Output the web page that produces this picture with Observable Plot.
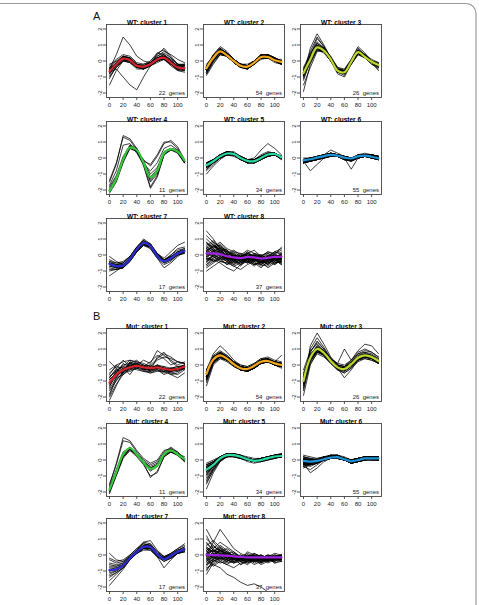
<!DOCTYPE html>
<html>
<head>
<meta charset="utf-8">
<script src="https://cdn.jsdelivr.net/npm/d3@7"></script>
<script src="https://cdn.jsdelivr.net/npm/@observablehq/plot@0.6"></script>
<style>
  body { margin: 0; background: #fff; }
  #fig { position: relative; width: 479px; height: 605px; overflow: hidden; font-family: "Liberation Sans", Arial, sans-serif; }
  #fig .panel { position: absolute; }
  #fig .tag { position: absolute; font-size: 11px; line-height: 11px; color: #111; }
  #fig svg text { white-space: pre; }
</style>
</head>
<body>
<div id="fig"></div>
<script>
// Sampling times (minutes)
const times = [0, 10, 20, 30, 40, 50, 60, 70, 80, 90, 100, 110];
const xTicks = [0, 20, 40, 60, 80, 100];
const yTicks = [-2, -1, 0, 1, 2];

const clusterColors = ["#d3232c", "#f2a81d", "#b9da2a", "#35c93a", "#2ad9a2", "#1f93d3", "#2c2cd0", "#a023e0"];

// Cluster centroids (log-ratio units)
const wtCentroids = [
  [-0.65, -0.2, 0.15, 0.05, -0.3, -0.35, -0.2, 0.1, 0.2, -0.1, -0.4, -0.45],
  [-0.45, 0.2, 0.6, 0.35, 0.0, -0.3, -0.35, -0.1, 0.25, 0.25, 0.05, -0.05],
  [-0.75, 0.1, 0.85, 0.65, 0.1, -0.6, -0.7, -0.05, 0.55, 0.25, -0.05, -0.25],
  [-2.05, -1.3, -0.1, 0.65, 0.5, -0.3, -1.2, -0.8, 0.3, 0.55, 0.4, -0.15],
  [-0.45, -0.2, 0.1, 0.28, 0.25, 0.0, -0.18, -0.2, 0.0, 0.22, 0.25, 0.05],
  [-0.15, -0.08, 0.02, 0.12, 0.2, 0.15, 0.02, -0.03, 0.1, 0.15, 0.08, -0.02],
  [-0.55, -0.7, -0.65, -0.25, 0.35, 0.75, 0.55, -0.05, -0.4, -0.2, 0.1, 0.25],
  [0.1, 0.1, 0.05, -0.08, -0.15, -0.2, -0.12, -0.15, -0.22, -0.18, -0.12, -0.1]
];
const mutCentroids = [
  [-1.1, -0.6, -0.3, -0.15, -0.05, -0.15, -0.2, -0.15, -0.25, -0.3, -0.25, -0.1],
  [-0.55, 0.35, 0.6, 0.4, 0.05, -0.2, -0.25, -0.05, 0.2, 0.25, 0.1, 0.0],
  [-1.0, 0.45, 1.0, 0.75, 0.25, -0.15, -0.25, 0.05, 0.45, 0.6, 0.5, 0.25],
  [-1.85, -0.75, 0.35, 0.75, 0.35, -0.15, -0.55, -0.35, 0.35, 0.6, 0.35, 0.05],
  [-0.6, -0.3, 0.1, 0.3, 0.3, 0.2, 0.05, -0.05, 0.0, 0.12, 0.22, 0.25],
  [-0.05, -0.1, -0.05, 0.05, 0.15, 0.18, 0.05, -0.08, 0.0, 0.1, 0.1, 0.1],
  [-0.95, -0.9, -0.65, -0.2, 0.2, 0.5, 0.5, 0.05, -0.25, -0.05, 0.2, 0.35],
  [0.02, 0.0, -0.02, -0.05, -0.08, -0.12, -0.15, -0.15, -0.15, -0.15, -0.15, -0.15]
];

// Gene profiles, one row per gene, values in tenths of a log-ratio unit
const wt1 = [
[-5,4,15,10,3,0,-1,3,5,2,-2,-3],
[-7,-5,-10,-15,-18,-10,-3,5,4,-2,-5,-4],
[-6,-1,3,2,-2,-3,-1,2,3,0,-3,-4],
[-8,-3,1,0,-4,-5,-3,0,1,-2,-5,-5],
[-4,0,3,2,-2,-3,-2,2,3,0,-3,-3],
[-10,-4,0,-1,-5,-5,-3,0,2,-2,-6,-6],
[-5,-1,2,1,-3,-2,0,4,8,3,-2,-3],
[-6,-2,1,0,-3,-4,-2,1,2,-1,-4,-5],
[-3,1,4,3,-1,-2,-1,2,4,1,-2,-2],
[-15,-6,0,-1,-4,-5,-3,1,1,-3,-6,-7],
[-7,-3,2,2,-2,-4,-3,0,2,-1,-5,-3],
[-5,-2,3,0,-4,-3,-1,3,6,4,1,-1],
[-6,-3,1,1,-3,-5,-2,1,1,-2,-4,-6],
[-8,-1,2,0,-2,-3,-2,2,3,-1,-5,-4],
[-2,0,1,-1,-4,-4,-2,1,2,-1,-3,-2],
[-6,-2,3,2,-3,-3,-2,0,3,1,-4,-5],
[-9,-4,0,1,-2,-4,-3,-1,1,-2,-3,-3],
[-6,-1,3,1,-3,-4,0,5,7,2,-2,-4],
[-4,-2,2,2,-3,-3,-2,1,2,-2,-5,-5],
[-7,-3,1,0,-3,-3,-1,2,1,-1,-4,-4],
[-5,-1,2,1,-4,-5,-3,0,2,0,-3,-2],
[-11,-3,0,0,-3,-3,-2,2,4,0,-5,-6]
];
const wt2 = [
[-5,2,6,4,0,-3,-4,-1,3,3,1,-1],
[-4,3,7,4,1,-2,-3,0,3,3,1,0],
[-6,1,5,3,-1,-4,-4,-2,2,2,0,-1],
[-3,3,7,5,1,-2,-3,-1,3,4,2,0],
[-7,0,5,3,0,-3,-4,-1,2,2,0,-2],
[-5,2,8,5,1,-3,-5,-2,3,4,1,-1],
[-4,1,5,3,-1,-3,-3,0,2,2,0,0],
[-5,3,6,3,-1,-4,-4,-1,3,3,0,-1],
[-6,2,7,4,0,-4,-5,-2,2,3,1,-2],
[-2,3,6,4,1,-2,-2,0,3,2,1,1],
[-5,1,6,5,1,-2,-4,-2,2,4,2,-1],
[-8,-1,4,3,-1,-4,-4,-1,2,2,0,-1],
[-4,2,7,4,0,-3,-3,-1,4,3,0,-1],
[-5,4,8,4,-1,-4,-4,-1,3,3,1,0],
[-3,2,5,3,0,-2,-3,0,2,2,1,0],
[-6,1,6,4,1,-3,-4,-2,3,3,0,-2],
[-4,2,6,3,-1,-3,-4,0,3,2,0,-1],
[-5,3,7,5,0,-3,-3,-1,2,3,1,-1],
[-7,1,5,4,0,-4,-4,-1,3,3,0,-2],
[-4,2,6,4,0,-2,-3,-1,3,3,2,0],
[-5,0,4,3,0,-3,-4,-2,2,2,0,-1],
[-3,4,9,6,1,-3,-4,-1,4,4,1,-1],
[-6,2,6,3,-1,-3,-3,0,3,3,1,0],
[-5,2,6,4,1,-3,-5,-2,2,2,0,-2],
[-4,1,5,4,0,-2,-3,0,4,4,2,0],
[-9,-2,4,3,0,-3,-4,-1,2,3,1,-1],
[-5,3,7,4,0,-3,-4,-2,3,3,0,-1],
[-4,2,6,3,-1,-4,-4,-1,2,2,0,-1],
[-6,1,5,4,1,-2,-3,0,3,3,1,-1],
[-5,2,7,5,1,-3,-4,-1,3,4,1,0],
[-3,3,6,3,0,-3,-4,-1,2,3,1,0],
[-5,2,5,3,-1,-4,-5,-2,2,2,-1,-2],
[-6,1,6,4,0,-3,-3,0,3,3,1,-1],
[-4,3,8,5,1,-2,-3,-1,3,3,1,0],
[-5,1,5,3,0,-3,-4,-2,1,2,0,-1],
[-7,0,6,4,0,-3,-4,-1,3,4,2,-1],
[-4,2,6,4,0,-3,-3,0,3,2,0,-1],
[-5,3,7,4,-1,-4,-4,-1,3,3,0,-2],
[-3,2,6,4,1,-2,-3,-1,2,3,1,0],
[-6,2,6,3,0,-3,-4,-1,3,3,1,-1],
[-5,1,6,5,1,-3,-4,-2,2,3,1,-1],
[-4,2,5,3,0,-3,-3,0,4,4,1,0],
[-5,2,7,4,0,-4,-5,-1,3,2,0,-1],
[-6,3,6,3,-1,-3,-4,-1,2,3,1,-1],
[-4,1,6,4,1,-2,-3,0,3,3,1,0],
[-5,2,6,4,0,-3,-4,-1,3,3,0,-1],
[-8,0,5,4,0,-3,-4,-1,2,3,1,-2],
[-4,2,7,5,1,-3,-3,0,3,3,1,-1],
[-5,3,6,3,-1,-3,-4,-1,3,2,0,-1],
[-6,1,5,4,0,-4,-4,-2,2,3,1,0],
[-3,3,7,4,0,-3,-3,0,4,3,1,-1],
[-5,2,6,4,0,-3,-4,-1,3,3,1,-1],
[-4,2,6,4,1,-2,-4,-1,2,3,0,-1],
[-6,1,6,3,-1,-3,-4,-1,3,4,2,0]
];
const wt3 = [
[-8,1,9,7,1,-6,-7,-1,6,3,-1,-3],
[-10,4,14,9,2,-5,-8,-1,5,3,0,-2],
[-19,-2,7,6,0,-7,-8,-2,5,2,-1,-4],
[-5,3,10,7,1,-5,-6,0,6,3,0,-2],
[-7,0,8,6,0,-6,-8,-1,5,2,-1,-3],
[-9,8,17,10,2,-4,-6,0,7,4,0,-2],
[-6,2,9,8,2,-5,-6,0,7,3,0,-3],
[-12,0,8,6,1,-7,-9,-2,5,2,-2,-4],
[-4,5,11,8,3,-4,-5,1,8,4,1,-1],
[-8,0,8,7,2,-6,-7,-1,5,2,-1,-3],
[-7,2,10,6,0,-7,-8,-1,6,3,-1,-2],
[-15,-4,6,6,1,-5,-7,0,6,3,0,-3],
[-6,1,9,7,1,-6,-6,0,5,2,-1,-3],
[-8,6,15,9,1,-6,-7,-1,6,4,0,-3],
[-9,1,8,6,0,-8,-10,-2,4,2,-1,-4],
[-7,2,9,7,2,-5,-6,0,7,4,0,-2],
[-6,0,7,6,1,-6,-7,-1,5,2,-1,-3],
[-10,3,11,8,2,-5,-7,-1,6,3,0,-2],
[-5,2,8,6,0,-6,-8,-2,4,2,-1,-3],
[-8,1,9,7,1,-5,-6,1,9,5,0,-3],
[-9,-1,7,5,0,-7,-8,-1,5,2,-2,-5],
[-7,2,10,8,2,-6,-7,0,6,3,0,-2],
[-11,0,9,7,1,-6,-7,-1,6,3,-1,-3],
[-6,4,12,8,1,-5,-6,0,6,3,0,-1],
[-8,1,8,6,0,-6,-8,-1,5,2,-1,-6],
[-7,1,9,7,2,-7,-8,-1,6,3,-1,-3]
];
const wt4 = [
[-20,-13,-1,7,5,-3,-12,-8,3,6,4,-2],
[-15,-4,14,12,6,-2,-4,2,10,10,6,-2],
[-14,-3,13,11,5,-1,-5,1,9,11,7,-1],
[-21,-14,-2,7,6,-4,-14,-9,3,6,4,-3],
[-19,-12,-1,8,4,-4,-18,-11,2,6,5,-2],
[-22,-15,-3,6,4,-3,-13,-9,3,5,3,-3],
[-18,-11,1,8,6,-2,-10,-6,4,6,4,-1],
[-20,-13,0,7,5,-4,-15,-10,2,5,4,-2],
[-21,-14,-2,6,4,-3,-12,-7,3,6,3,-3],
[-17,-8,8,9,3,-4,-8,-3,6,8,5,-2],
[-20,-14,-2,7,5,-5,-19,-12,2,5,4,-3]
];
const wt5 = [
[-5,-2,1,3,3,0,-2,-2,0,2,3,1],
[-4,-1,2,4,3,1,-1,-2,1,3,3,1],
[-6,-3,0,2,2,-1,-3,-3,-1,1,2,0],
[-3,-1,2,3,2,0,-2,-1,1,3,3,1],
[-10,-5,-1,2,2,-1,-3,-3,0,2,2,0],
[-5,-2,1,4,4,1,-1,-2,0,2,2,0],
[-4,-2,0,2,2,-1,-2,-2,-1,1,2,1],
[-5,-1,2,3,2,0,-2,-3,0,2,3,0],
[-6,-2,1,3,3,1,-1,-1,2,4,3,1],
[-3,-1,1,2,1,-1,-3,-2,0,1,2,0],
[-5,-3,0,3,3,0,-2,-2,1,3,3,1],
[-4,-2,2,4,3,0,-3,-3,-1,2,2,0],
[-7,-3,1,3,2,0,-2,-1,1,2,2,0],
[-5,-2,1,2,2,0,-1,0,5,9,6,2],
[-4,-1,1,3,3,1,-1,-2,0,2,3,1],
[-5,-2,0,2,2,-1,-3,-3,-1,2,2,0],
[-6,-2,2,4,3,0,-2,-2,0,2,3,1],
[-3,-1,1,3,2,0,-1,-1,1,3,2,1],
[-5,-3,0,2,3,1,-2,-3,-1,1,2,-1],
[-4,-2,1,3,2,-1,-2,-2,0,2,3,1],
[-8,-4,0,3,3,0,-2,-2,0,2,2,0],
[-5,-2,1,4,3,1,-1,-1,1,3,3,1],
[-4,-1,2,3,2,0,-3,-3,-1,1,2,0],
[-5,-2,1,3,3,0,-2,-2,0,2,2,0],
[-6,-3,0,2,2,0,-2,-2,1,3,3,1],
[-3,-1,2,4,3,0,-2,-2,0,2,2,1],
[-5,-2,1,3,2,-1,-3,-3,-1,2,3,0],
[-4,-2,1,3,3,1,-1,-1,1,2,3,1],
[-5,-1,2,3,2,0,-2,-2,0,1,2,-1],
[-7,-3,0,2,3,0,-2,-3,0,2,2,0],
[-4,-2,1,3,2,0,-1,-1,1,3,3,1],
[-5,-2,1,3,3,0,-2,-2,-1,2,2,0],
[-6,-2,2,4,3,1,-2,-2,0,2,3,0],
[-4,-1,1,2,2,0,-2,-2,0,2,3,1]
];
const wt6 = [
[-2,-1,0,1,2,2,0,-1,1,2,1,0],
[-1,0,1,2,2,1,0,0,1,2,1,1],
[-3,-2,-1,0,1,1,-1,-1,0,1,0,-1],
[-2,-1,0,1,3,2,1,0,1,1,1,0],
[-1,-1,1,2,3,2,0,-1,0,1,1,0],
[-2,-8,-4,0,2,1,0,-1,1,2,1,-1],
[-2,-1,0,1,1,1,-1,-2,0,1,0,-1],
[0,0,1,2,2,2,1,0,2,2,2,1],
[-3,-2,0,1,2,1,0,-1,1,2,1,0],
[-2,-1,-1,0,1,1,0,0,1,2,2,1],
[-1,-1,0,2,3,2,1,-1,0,1,0,-1],
[-2,-2,-1,1,2,2,0,-1,1,2,1,0],
[-1,0,0,1,2,1,-1,-1,1,2,1,0],
[-3,-2,-1,0,2,2,1,0,1,1,1,-1],
[-2,-1,0,1,2,2,0,-1,2,3,2,0],
[-2,-1,1,2,5,3,1,-1,1,2,1,0],
[-1,-1,0,1,1,1,0,-1,0,1,1,0],
[-2,0,1,1,2,2,0,-1,1,1,0,-1],
[-3,-2,-1,1,2,1,-1,-2,0,1,1,0],
[-2,-1,0,1,2,2,1,0,1,2,1,1],
[-1,0,0,1,2,2,0,-1,1,2,2,1],
[-2,-1,0,0,1,1,0,-1,0,1,0,-1],
[-2,-2,0,2,3,2,0,-1,1,2,1,0],
[-1,-1,-1,1,2,1,0,0,2,2,1,0],
[-3,-1,0,1,2,2,0,-2,0,1,1,-1],
[-2,-1,1,1,2,1,-1,-1,1,2,1,0],
[-2,-1,0,1,2,2,0,0,1,2,2,1],
[-1,0,1,2,3,2,1,0,1,2,1,0],
[-2,-2,-1,0,1,1,0,-1,0,1,1,0],
[-3,-2,0,1,2,2,0,-1,1,2,1,-1],
[-2,-1,0,1,2,1,-1,-2,0,2,1,0],
[-1,-1,0,2,2,2,1,0,1,2,1,1],
[-2,-1,0,1,3,2,0,-1,1,1,0,-1],
[-2,0,0,1,2,2,0,-1,2,2,1,0],
[-3,-2,-1,1,2,1,0,-1,0,1,1,0],
[-1,-1,0,1,2,2,0,-1,1,2,2,0],
[-2,-1,1,2,2,1,-1,-1,1,2,1,0],
[-2,-2,0,1,2,2,1,0,1,2,1,0],
[-1,0,0,1,1,1,0,-1,0,1,1,0],
[-2,-1,0,1,2,2,0,-7,0,2,1,0],
[-3,-1,0,1,3,2,0,-1,1,2,1,-1],
[-2,-1,-1,0,2,2,0,-1,1,2,2,1],
[-1,-1,0,2,2,1,0,0,1,1,1,0],
[-2,-2,0,1,2,2,-1,-1,1,2,1,0],
[-2,-1,1,1,2,2,0,-1,0,1,0,-1],
[-1,0,0,1,2,2,1,0,1,2,1,0],
[-3,-2,-1,1,2,1,0,-1,1,2,1,0],
[-2,-1,0,1,2,2,0,-1,1,2,2,1],
[-2,-1,0,2,3,2,0,-1,1,2,1,0],
[-1,-1,0,1,2,1,0,-1,0,1,1,0],
[-2,-1,0,1,1,2,0,-1,1,2,1,-1],
[-3,-2,0,1,2,2,1,0,1,2,1,0],
[-2,-1,0,1,2,1,0,-1,1,2,1,0],
[-1,0,1,1,2,2,0,-1,1,2,2,1],
[-2,-1,0,1,2,2,0,-1,1,1,1,0]
];
const wt7 = [
[-6,-7,-6,-2,4,8,6,0,-4,-2,1,3],
[-3,-5,-5,-1,5,9,7,1,-3,-1,2,4],
[-10,-9,-8,-4,2,6,5,-1,-5,-3,0,2],
[-5,-8,-7,-3,3,7,5,-1,-4,-2,1,2],
[-13,-10,-7,-2,4,9,6,0,-4,0,4,5],
[-4,-6,-5,-1,5,10,7,0,-3,-1,1,3],
[-7,-8,-7,-3,3,7,4,-2,-6,-4,0,2],
[-5,-6,-6,-3,2,6,5,0,-3,0,3,4],
[-1,-4,-6,-3,3,8,6,-1,-5,-3,0,1],
[-6,-7,-7,-2,4,8,6,0,-4,-2,1,3],
[-8,-9,-8,-4,2,7,6,1,-2,2,6,8],
[-5,-6,-5,-1,4,7,5,-1,-5,-3,0,1],
[-6,-8,-7,-3,3,8,5,-1,-4,-2,2,3],
[-4,-5,-4,-1,5,9,6,0,-3,-1,1,2],
[-9,-9,-8,-4,2,6,4,-2,-8,-5,-1,2],
[-5,-7,-6,-2,4,8,7,1,-3,-1,2,3],
[-7,-8,-8,-3,3,7,5,-1,-4,-2,1,2]
];
const wt8 = [
[5,8,2,-3,0,-4,1,-2,-5,0,-3,2],
[-2,3,6,1,-4,-2,-5,0,-3,-6,-1,-2],
[15,10,4,3,-1,-3,0,-4,-2,1,-1,0],
[0,-4,-2,-6,-3,-7,-2,-5,-8,-4,-2,-5],
[3,5,8,4,2,-1,1,3,-1,-2,2,4],
[-6,-3,-5,-8,-10,-6,-3,-6,-4,-8,-5,-3],
[8,4,1,0,2,1,-2,0,-3,-1,-4,-1],
[-3,0,2,-2,-1,-4,-3,-2,-6,-3,1,-2],
[2,6,3,-1,-5,-3,1,-1,-2,-5,-3,-4],
[-8,-5,-2,-4,-6,-2,-4,-7,-3,-1,-6,-3],
[4,2,5,3,-2,0,3,1,-1,2,0,5],
[1,-1,-3,-2,0,-5,-2,-3,-5,-4,-1,-1],
[6,9,4,2,1,-2,-3,1,0,-3,-2,0],
[-4,-2,0,-3,-5,-3,-1,-4,-2,-6,-3,-5],
[0,3,-1,-4,-2,-6,-4,0,-3,-2,2,1],
[10,6,3,0,-3,-1,2,-2,-4,-1,-3,-2],
[-1,2,4,1,-1,-3,-5,-3,-1,-4,-6,-3],
[-10,-7,-4,-5,-7,-9,-6,-4,-7,-5,-3,-6],
[3,0,-2,1,3,0,-2,-1,-3,-2,0,-2],
[-2,-4,-3,-6,-4,-2,0,-3,-6,-7,-4,-2],
[7,5,6,2,-1,1,0,-2,0,1,-2,-1],
[2,-1,1,-3,-2,-4,-1,1,-2,-3,-1,0],
[-5,0,3,0,-4,-5,-3,-6,-4,-2,-5,-4],
[4,7,1,-2,0,-3,2,-1,-5,-3,-2,1],
[-3,-1,-4,-5,-2,0,-4,-2,-1,-4,-3,-6],
[12,8,5,1,-2,-4,-1,0,-3,-1,2,0],
[0,2,0,-1,-3,-2,-3,-4,-2,0,-2,-3],
[-7,-4,-1,-3,-6,-4,-2,-5,-6,-3,0,-2],
[1,4,7,3,0,-1,1,-1,-4,-5,-3,-1],
[-2,-3,-1,-4,-7,-5,-3,-1,0,-2,-5,-4],
[5,3,2,0,1,-2,-4,-3,-1,2,1,3],
[-4,0,-2,-1,-3,-6,-2,-2,-4,-6,-2,-1],
[3,6,2,-2,-4,-1,0,-3,-5,-2,-4,-2],
[-1,1,3,2,0,-2,-1,-4,-2,-3,0,-1],
[8,3,0,-3,-1,-3,-5,-2,-3,-4,-1,-3],
[-6,-2,1,-2,-3,-1,-4,-6,-5,-1,-3,-5],
[2,5,4,-1,-2,-4,-2,0,-1,-3,-2,0]
];

const mut1 = [
[-12,-3,-5,2,-2,0,-4,5,8,2,-1,-3],
[-18,-8,-2,-6,0,-3,-1,-2,-4,-6,-5,-2],
[-6,0,-4,1,3,-1,2,6,4,0,2,1],
[-20,-12,-6,-2,-3,-4,-5,-3,-6,-4,-3,0],
[-9,-5,1,-2,0,-3,-2,0,-1,-4,-3,-2],
[2,-2,-6,-1,1,-2,-3,-2,-3,-2,-1,0],
[-14,-4,-1,3,1,-1,0,4,7,5,2,1],
[-11,-6,-3,-4,-2,-1,-3,-2,-2,-3,-4,-2],
[-16,-10,-4,0,-1,-3,-3,0,-2,-5,-6,-3],
[-8,-2,3,-1,2,0,-2,-1,-3,-2,-1,-1],
[-13,-7,-4,2,0,-2,-4,-3,-5,-3,-2,0],
[-5,-1,-2,-3,0,3,1,9,6,3,0,2],
[-10,-6,-3,0,-1,-2,-2,-1,-3,-4,-3,-1],
[-19,-9,-5,-1,-2,-4,-4,-2,-1,-2,-3,-2],
[-7,-4,0,1,-1,-2,-1,-3,-4,-3,-2,-1],
[-12,-5,-2,-2,0,-1,-2,-1,-2,-5,-4,-1],
[-3,0,2,3,2,1,-1,3,5,4,2,1],
[-15,-8,-6,-3,-2,-3,-5,-4,-4,-2,-3,-2],
[-9,-6,-2,0,1,-1,0,-2,-3,-4,-2,0],
[-11,-7,-3,-1,-1,-2,-3,-2,-2,-3,-3,-1],
[-22,-13,-4,1,0,-2,-2,0,-3,-6,-8,-5],
[-8,-3,-1,-2,-1,0,-2,-1,-2,-3,-2,0]
];
const mut2 = [
[-6,4,6,4,1,-2,-3,-1,2,3,1,0],
[-4,6,9,6,2,-1,-2,0,3,3,2,1],
[-8,2,5,3,0,-3,-3,-1,1,2,0,-1],
[-5,5,7,5,2,-1,-2,0,3,4,2,0],
[-13,0,4,3,0,-3,-4,-2,1,2,0,-1],
[-6,3,6,3,0,-2,-3,-1,2,2,1,0],
[-3,7,12,8,3,0,-1,1,4,5,3,2],
[-7,3,5,3,0,-3,-4,-2,1,2,0,-2],
[-5,4,7,5,1,-1,-2,0,3,3,1,0],
[-9,1,4,2,-1,-3,-3,-1,2,3,1,-1],
[-6,5,8,5,1,-2,-3,-1,2,3,2,1],
[-4,3,6,4,1,-2,-2,0,2,2,0,-1],
[-7,2,5,4,1,-1,-2,0,3,3,1,0],
[-6,4,7,4,0,-3,-4,-2,1,2,0,-1],
[-5,3,6,5,2,-1,-2,-1,2,3,1,1],
[-10,2,5,3,0,-2,-3,-1,2,2,1,0],
[-6,4,6,3,0,-2,-3,-1,2,3,2,0],
[-4,5,8,6,2,0,-1,1,4,4,2,1],
[-7,3,5,3,-1,-3,-3,-1,1,2,0,-1],
[-5,4,6,4,1,-2,-3,0,3,3,1,0],
[-8,2,6,4,1,-2,-2,-1,2,2,1,0],
[-6,4,7,5,1,-1,-2,0,2,3,1,-1],
[-3,5,7,4,0,-3,-4,-2,1,2,1,0],
[-6,3,5,3,0,-2,-3,-1,2,3,2,1],
[-7,4,6,4,1,-2,-3,-1,3,3,1,0],
[-5,2,5,4,1,-1,-2,0,2,2,0,-1],
[-9,3,7,5,1,-2,-3,-1,2,3,1,0],
[-6,5,8,5,1,-2,-2,0,3,4,2,1],
[-4,3,6,3,0,-3,-3,-1,1,2,0,-1],
[-6,4,6,4,0,-2,-3,-1,2,3,1,0],
[-11,1,5,3,0,-2,-3,-1,2,2,1,-1],
[-5,4,7,5,2,-1,-2,0,2,3,1,0],
[-7,3,6,4,1,-2,-3,-1,3,3,2,1],
[-5,5,7,4,0,-3,-4,-2,1,2,0,-1],
[-6,3,5,3,0,-2,-2,0,2,2,1,0],
[-4,4,6,4,1,-2,-3,-1,2,3,1,0],
[-8,2,5,4,1,-1,-2,0,3,3,1,0],
[-6,4,7,5,1,-2,-3,-1,2,2,0,-1],
[-5,3,6,4,1,-2,-3,-1,2,3,2,6],
[-7,4,6,3,0,-3,-3,-1,2,3,1,0],
[-6,5,8,5,1,-1,-2,0,3,3,1,0],
[-4,3,5,3,0,-2,-3,-1,1,2,1,0],
[-9,2,6,4,1,-2,-3,-1,2,3,1,-1],
[-6,4,6,4,1,-2,-2,0,3,3,2,1],
[-5,3,7,5,2,-1,-2,-1,2,2,0,-1],
[-7,4,6,3,0,-3,-4,-2,1,2,1,0],
[-6,3,6,4,1,-2,-3,-1,2,3,1,0],
[-3,5,7,5,1,-2,-2,0,3,4,2,1],
[-8,3,5,3,0,-2,-3,-1,2,2,0,-1],
[-6,4,7,4,0,-2,-3,-1,2,3,1,0],
[-5,4,6,4,1,-1,-2,0,2,3,1,0],
[-7,2,5,4,1,-2,-3,-1,2,2,1,-1],
[-6,5,7,4,1,-2,-3,-1,3,3,1,0],
[-5,3,6,5,2,-1,-2,0,2,3,2,1]
];
const mut3 = [
[-10,5,10,8,3,-1,-2,1,5,6,5,3],
[-15,12,20,13,5,0,-1,2,7,8,7,4],
[-6,8,14,10,4,0,-1,1,5,6,5,2],
[-19,0,8,6,2,-2,-4,-1,3,5,4,2],
[-9,4,9,7,2,-2,-3,0,4,6,5,3],
[-12,10,17,11,4,1,10,3,8,10,8,5],
[-8,6,12,9,3,-1,-2,1,5,7,5,2],
[-11,3,9,6,1,-3,-5,-2,3,5,4,1],
[-5,7,11,8,3,0,-1,3,9,13,12,7],
[-10,5,10,7,2,-2,-3,0,4,5,4,2],
[-13,2,8,6,2,-2,-3,0,5,6,5,3],
[-7,6,11,8,3,-1,-2,1,5,7,6,3],
[-10,4,9,6,1,-3,-4,-1,3,4,3,1],
[-3,9,13,9,4,1,0,3,7,9,8,5],
[-11,3,8,7,3,-1,-3,0,4,6,5,2],
[-8,5,11,9,3,-2,-3,0,4,5,4,1],
[-14,1,7,5,1,-3,-5,-2,2,4,3,1],
[-9,6,12,8,2,-1,-2,1,6,7,5,3],
[-10,4,10,7,2,-2,-3,0,4,6,5,2],
[-12,8,15,10,4,0,-1,2,6,8,6,4],
[-7,3,9,7,3,-1,-2,0,4,5,4,2],
[-10,5,10,8,3,-2,-8,-3,3,5,4,1],
[-16,2,9,7,2,-2,-3,0,4,6,5,3],
[-9,5,11,8,3,-1,-2,1,5,6,5,2],
[-11,4,9,6,2,-2,-3,0,4,6,4,2],
[-8,6,10,7,2,-2,-3,1,5,7,6,3]
];
const mut4 = [
[-19,-8,3,8,4,-1,-5,-3,4,6,4,1],
[-16,-2,14,12,6,1,-2,0,6,7,5,1],
[-15,-3,12,11,5,0,-3,-1,5,8,5,0],
[-20,-9,2,7,3,-2,-7,-4,3,5,3,0],
[-18,-7,4,8,4,-1,-5,-3,4,6,4,1],
[-21,-10,1,6,2,-3,-10,-8,2,5,3,-1],
[-17,-6,5,8,4,-1,-4,-2,4,7,4,1],
[-19,-8,3,7,3,-2,-6,-4,3,6,3,0],
[-20,-9,2,6,3,-2,-11,-7,2,5,3,0],
[-18,-7,4,8,4,-1,-5,-3,4,7,4,2],
[-19,-9,2,7,3,-2,-6,-4,3,6,3,-1]
];
const mut5 = [
[-6,-3,1,3,3,2,0,-1,0,1,2,3],
[-15,-6,0,2,3,2,1,0,1,2,3,3],
[-3,-1,2,4,4,3,1,0,1,2,3,3],
[-9,-4,0,2,2,1,0,-1,-1,0,1,2],
[-5,-2,2,4,3,2,1,0,1,2,3,4],
[-18,-8,-1,2,3,1,0,-1,0,1,2,2],
[-7,-3,1,3,3,2,0,-1,0,1,2,2],
[-4,-2,1,3,4,3,2,1,1,2,3,3],
[-11,-5,0,3,3,2,0,-1,-1,1,2,2],
[-6,-2,2,4,3,1,0,-1,0,1,2,3],
[-2,0,2,3,3,2,1,0,1,2,3,3],
[-8,-4,0,2,3,2,1,0,0,1,2,2],
[-6,-3,1,3,2,1,-1,-2,-1,1,2,2],
[-13,-5,1,4,4,3,1,0,1,2,3,3],
[-5,-2,1,3,3,2,0,-1,0,1,2,3],
[-7,-3,0,2,3,2,1,-1,-1,0,1,2],
[-4,-1,2,4,3,2,1,0,1,2,2,3],
[-10,-4,1,3,3,2,0,-1,0,1,2,2],
[-6,-3,1,2,2,1,0,-1,0,2,3,3],
[-3,-1,2,4,4,3,1,0,0,1,2,2],
[-8,-4,0,3,3,2,1,0,1,2,3,4],
[-6,-2,1,3,3,2,0,-1,0,1,2,2],
[-12,-6,-1,2,3,2,1,-1,-1,0,1,2],
[-5,-2,2,3,3,2,0,-1,0,1,3,3],
[-7,-3,1,4,4,2,1,0,1,2,2,2],
[-4,-2,1,3,2,1,0,-1,0,1,2,3],
[-9,-3,1,3,3,2,0,-1,-1,1,2,2],
[-6,-3,0,2,3,2,1,0,0,1,2,3],
[-5,-2,2,4,3,2,0,-1,0,2,3,3],
[-14,-7,0,3,3,2,1,0,1,1,2,2],
[-6,-2,1,3,3,1,0,-1,0,1,2,2],
[-3,-1,1,3,3,2,1,0,1,2,3,3],
[-7,-4,0,2,3,2,0,-1,0,1,2,2],
[-5,-2,1,3,3,2,1,0,0,1,2,3]
];
const mut6 = [
[-1,-1,-1,1,2,2,1,-1,0,1,1,1],
[2,1,0,2,3,3,1,0,1,2,2,2],
[-3,-4,-2,0,1,1,0,-2,-1,0,0,0],
[0,-1,0,1,2,2,0,-1,0,1,1,1],
[-2,-8,-5,-1,1,2,0,-2,-1,1,1,0],
[1,0,1,2,2,2,1,0,1,2,2,2],
[-4,-3,-2,0,1,1,0,-1,-1,0,1,0],
[-1,0,-1,1,3,3,1,-1,0,1,1,1],
[0,-2,-1,0,2,2,0,-2,-1,0,1,1],
[3,2,1,2,3,2,1,0,1,2,2,1],
[-2,-1,0,1,1,1,0,-1,0,1,0,0],
[-1,-3,-2,0,2,2,1,0,1,2,2,2],
[-5,-3,-1,1,2,2,0,-1,0,1,1,1],
[0,1,0,2,2,2,1,-1,0,1,1,0],
[-1,-2,-1,0,1,2,0,-2,-1,0,1,1],
[-2,-1,-1,1,3,3,2,0,1,2,2,2],
[1,-1,0,1,2,1,0,-1,0,1,0,0],
[-3,-2,-1,0,1,2,1,-1,0,1,1,1],
[0,-1,0,2,2,2,1,0,1,1,1,1],
[-1,-1,-1,1,2,2,0,-2,-1,0,1,0],
[-2,-2,-1,0,2,2,1,-1,0,2,2,2],
[2,0,0,1,2,2,1,-1,0,1,1,1],
[-4,-6,-3,0,1,1,0,-1,0,1,1,0],
[-1,0,0,1,2,2,0,-1,0,1,1,1],
[0,-1,-1,1,2,2,1,0,1,1,2,1],
[-2,-2,-1,0,1,1,0,-2,-1,0,0,0],
[-1,-1,0,1,2,3,1,-1,0,1,1,1],
[1,0,0,1,2,2,1,0,0,1,1,2],
[-3,-2,-1,0,1,2,0,-1,0,1,1,0],
[-1,-1,-1,1,2,2,1,-1,0,1,2,1],
[0,-1,0,1,3,2,0,-1,-1,0,1,1],
[-2,-3,-2,0,2,2,1,0,1,2,2,1],
[-1,0,0,2,2,2,1,-1,0,1,1,1],
[-3,-1,-1,1,2,1,0,-2,-1,0,1,0],
[0,-1,-1,0,2,2,1,-1,0,1,1,2],
[-1,-2,-1,1,2,2,0,-1,0,1,1,1],
[2,1,0,1,2,2,1,0,1,1,1,1],
[-2,-1,0,1,2,2,1,-1,0,1,2,2],
[-1,-1,-1,0,1,1,0,-1,-1,0,0,0],
[-4,-2,-1,1,2,2,1,0,1,1,1,1],
[0,0,-1,1,2,2,0,-1,0,1,1,0],
[-1,-2,-1,1,3,3,1,-1,0,2,2,1],
[-2,-1,0,1,2,2,1,0,0,1,1,1],
[1,-1,-1,0,1,1,0,-1,0,1,1,1],
[-1,-1,0,1,2,2,1,-1,0,1,1,0],
[-3,-2,-1,0,2,2,0,-2,-1,0,1,1],
[0,-1,-1,1,2,2,1,0,1,2,2,2],
[-1,-1,-1,1,2,2,1,-1,0,1,1,1],
[-2,-3,-2,0,1,2,1,-1,0,1,1,1],
[0,0,0,2,2,2,0,-1,0,1,1,1],
[-1,-1,-1,1,2,1,0,-1,-1,0,1,1],
[-2,-1,0,1,2,2,1,0,1,1,2,1],
[1,0,-1,1,2,2,1,-1,0,1,1,1],
[-1,-2,-1,0,2,2,0,-1,0,1,1,0],
[-2,-1,-1,1,2,2,0,-1,-1,1,1,0]
];
const mut7 = [
[-10,-9,-6,-2,2,5,5,0,-3,-1,2,3],
[-19,-14,-9,-3,2,6,6,1,-2,0,3,4],
[1,-3,-4,-1,3,6,6,1,-2,0,2,4],
[-8,-8,-7,-3,1,4,4,-1,-4,-2,1,3],
[-14,-11,-8,-2,3,8,9,3,-1,1,4,6],
[-5,-6,-5,-1,3,5,5,0,-3,-1,1,2],
[-12,-10,-7,-3,1,4,3,-1,-8,-3,1,3],
[-9,-9,-7,-2,2,6,7,2,-1,1,3,5],
[-3,-5,-4,0,4,7,6,1,-2,0,2,3],
[-11,-10,-7,-3,1,4,4,0,-3,-1,2,4],
[-7,-7,-6,-2,2,5,5,0,-2,1,4,7],
[-16,-12,-8,-3,1,3,3,-1,-4,-2,1,2],
[-10,-9,-6,-1,3,7,6,1,-2,0,2,3],
[-6,-7,-5,-1,2,5,4,-1,-3,-1,1,3],
[-13,-11,-8,-3,2,5,5,1,-2,0,3,5],
[-9,-8,-6,-2,1,4,4,0,-3,-2,1,2],
[-2,-4,-3,0,4,8,7,2,-1,0,2,4]
];
const mut8 = [
[16,8,3,0,-2,-3,-1,-2,-4,-3,-1,-2],
[-2,-6,-8,-12,-14,-17,-19,-18,-20,-23,-25,-24],
[0,8,16,10,4,1,-1,-3,0,-2,-3,-1],
[-12,-5,-2,-4,-1,-6,-3,0,-4,-2,-5,-3],
[4,2,6,3,-1,-3,2,0,-3,-4,-1,0],
[-5,-3,1,-2,-4,-2,-5,-3,-1,-4,-2,-3],
[8,3,-1,1,2,-1,-3,-4,-2,0,-2,-1],
[-3,-7,-4,-6,-8,-5,-3,-6,-4,-2,-5,-4],
[2,5,3,0,-3,-1,-2,1,-1,-3,0,-2],
[-7,-2,4,2,-1,-4,-6,-3,-5,-1,-2,-4],
[5,1,-2,-3,0,-2,0,-2,-3,-1,-3,-2],
[0,4,8,5,2,-2,-1,-3,-2,-4,-1,-2],
[-9,-4,-1,-3,-5,-3,-4,-1,-2,-3,-4,-1],
[3,-2,0,2,-1,-4,-2,-5,-3,-1,-2,-3],
[-4,1,3,-1,-2,0,-3,-2,-5,-3,-1,-2],
[10,6,2,-1,-3,-1,1,-1,-2,0,-1,0],
[-1,-3,-5,-4,-2,-6,-4,-3,-1,-4,-3,-2],
[6,9,5,1,0,-3,-2,-1,-3,-2,0,-1],
[-6,-4,-2,0,-3,-1,-2,-4,-2,-5,-3,-4],
[1,3,-1,-3,-5,-2,0,-2,-4,-1,-2,0],
[-3,0,2,4,1,-1,-3,-1,0,-2,-3,-1],
[12,4,0,-2,-1,-3,-4,-2,-1,-3,-2,-3],
[-8,-6,-3,-5,-4,-2,-1,-3,-6,-4,-2,-2],
[2,-1,3,1,-2,-3,-1,0,-2,-1,1,0],
[-2,2,5,2,-1,-4,-5,-3,-2,-3,-4,-2],
[4,0,-3,-1,1,-1,-2,-4,-3,-2,-1,-2],
[-10,-3,1,-2,-4,-3,-1,-2,-1,-3,-2,-3],
[0,-2,-1,1,-1,-2,-3,-1,-3,-2,-1,0],
[7,3,1,-2,-1,0,-2,-3,-1,-4,-2,-1],
[-4,-1,-4,-6,-3,-1,-2,-4,-3,-1,-3,-2],
[3,6,2,-1,-2,-3,-1,1,-1,-2,0,-1],
[-1,1,0,-2,-3,-1,-4,-2,-5,-3,-2,-3],
[-6,0,3,1,-1,-2,0,-1,-2,0,-1,-2],
[1,-2,-2,-4,-2,-3,-2,-1,0,-2,-4,-1],
[5,2,4,0,-2,-1,-3,-2,-4,-3,-1,-2],
[-2,-4,-1,-3,-5,-4,-2,0,-1,-2,-3,-2],
[0,3,1,-1,0,-2,-1,-3,-2,-1,-2,0]
];

const wtClusters = [wt1, wt2, wt3, wt4, wt5, wt6, wt7, wt8];
const mutClusters = [mut1, mut2, mut3, mut4, mut5, mut6, mut7, mut8];

// Panel geometry (plot box size and margins, in px)
const BW = 81, BH = 73;
const ML = 16, MR = 4, MT = 10, MB = 16;
const colLeft = [106, 203, 300];
const wtRowTop = [24, 121, 218];
const mutRowTop = [328, 423, 518];

const fig = document.getElementById("fig");

function drawPanel(rows, centroid, color, title, left, top) {
  const genes = rows.flatMap((r, g) => r.map((v, i) => ({g, t: times[i], v: v / 10})));
  const mean = centroid.map((v, i) => ({t: times[i], v}));
  const chart = Plot.plot({
    width: ML + BW + MR,
    height: MT + BH + MB,
    marginLeft: ML, marginRight: MR, marginTop: MT, marginBottom: MB,
    style: {fontFamily: '"Liberation Sans", Arial, sans-serif', fontSize: "6px", background: "none", overflow: "visible", color: "#222"},
    x: {domain: [-4.4, 114.4], label: null},
    y: {domain: [-2.28, 2.28], label: null},
    marks: [
      Plot.axisX({ticks: xTicks, tickSize: 3, tickPadding: 2.5, fontSize: 6, label: null, stroke: "#555"}),
      Plot.axisY({ticks: yTicks, tickSize: 3, tickPadding: 2, tickRotate: -90, fontSize: 6, label: null, stroke: "#555", tickFormat: d => String(d)}),
      Plot.text([`${rows.length}  genes`], {text: d => d, frameAnchor: "bottom-right", textAnchor: "end", lineAnchor: "bottom", dx: -2.5, dy: -2.5, fontSize: 6, fill: "#222"}),
      Plot.line(genes, {x: "t", y: "v", z: "g", stroke: "#000", strokeWidth: 0.75, clip: true}),
      Plot.line(mean, {x: "t", y: "v", stroke: color, strokeWidth: 2.2, curve: "catmull-rom", clip: true}),
      Plot.frame({stroke: "#444", strokeWidth: 0.9}),
      Plot.text([title], {text: d => d, frameAnchor: "top", dy: -4.5, fontWeight: "bold", fontSize: 6.5, fill: "#000"})
    ]
  });
  chart.classList.add("panel");
  chart.style.left = `${left - ML}px`;
  chart.style.top = `${top - MT}px`;
  fig.appendChild(chart);
}

function drawGroup(clusters, centroids, prefix, rowTops) {
  clusters.forEach((rows, k) => {
    const row = Math.floor(k / 3), col = k % 3;
    drawPanel(rows, centroids[k], clusterColors[k], `${prefix}: cluster ${k + 1}`, colLeft[col], rowTops[row]);
  });
}

drawGroup(wtClusters, wtCentroids, "WT", wtRowTop);
drawGroup(mutClusters, mutCentroids, "Mut", mutRowTop);

// Panel tags
for (const [label, top] of [["A", 11], ["B", 311]]) {
  const tag = document.createElement("div");
  tag.className = "tag";
  tag.textContent = label;
  tag.style.left = "93px";
  tag.style.top = `${top}px`;
  fig.appendChild(tag);
}

// Rounded figure border
const ns = "http://www.w3.org/2000/svg";
const border = document.createElementNS(ns, "svg");
border.setAttribute("width", 479);
border.setAttribute("height", 605);
border.style.position = "absolute";
border.style.left = "0";
border.style.top = "0";
border.style.pointerEvents = "none";
const path = document.createElementNS(ns, "path");
path.setAttribute("d", "M0,3.5 H466 A10,10 0 0 1 476,13.5 V605");
path.setAttribute("fill", "none");
path.setAttribute("stroke", "#9a9a9a");
path.setAttribute("stroke-width", "1.2");
border.appendChild(path);
fig.appendChild(border);
</script>
</body>
</html>
